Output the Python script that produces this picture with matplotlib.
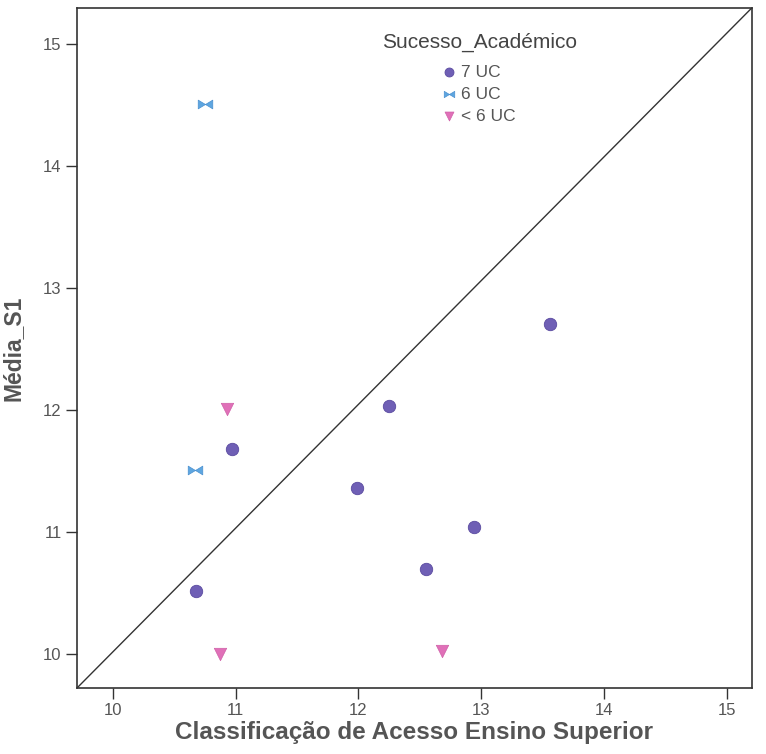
import matplotlib
matplotlib.use("Agg")
import matplotlib.pyplot as plt
from matplotlib.path import Path

plt.rcParams['font.family'] = ['Liberation Sans', 'DejaVu Sans']

# Classificação de acesso (x) vs média do 1º semestre (y), por grupo de sucesso
x_7uc = [13.56, 12.25, 10.97, 11.99, 12.94, 12.55, 10.68]
y_7uc = [12.71, 12.03, 11.68, 11.36, 11.04, 10.70, 10.52]

x_6uc = [10.75, 10.67]
y_6uc = [14.51, 11.51]

x_m6uc = [10.93, 10.87, 12.68]
y_m6uc = [12.01, 10.00, 10.02]

ticks = [10, 11, 12, 13, 14, 15]

# marcador "laço" (dois triângulos unidos pelo vértice)
bowtie = Path([(-1, -0.6), (-1, 0.6), (0, 0), (1, 0.6), (1, -0.6), (0, 0), (-1, -0.6)],
              [Path.MOVETO, Path.LINETO, Path.LINETO, Path.LINETO, Path.LINETO,
               Path.LINETO, Path.CLOSEPOLY])

grey = '#555555'

fig = plt.figure(figsize=(7.66, 7.54), dpi=100)
ax = fig.add_axes([0.1005, 0.0875, 0.881, 0.902])

# linha de referência de canto a canto
ax.plot([0, 1], [0, 1], transform=ax.transAxes, color='#333333', lw=1.0, zorder=1)

ax.scatter(x_7uc, y_7uc, s=80, marker='o', color='#6f5fb5', edgecolors='#5a4aa0',
           linewidths=0.6, label='7 UC', zorder=3)
ax.scatter(x_6uc, y_6uc, s=110, marker=bowtie, color='#5ea6e0', edgecolors='#4a90d0',
           linewidths=0.5, label='6 UC', zorder=3)
ax.scatter(x_m6uc, y_m6uc, s=80, marker='v', color='#e070b8', edgecolors='#d060a8',
           linewidths=0.5, label='< 6 UC', zorder=3)

ax.set_xlim(9.71, 15.2)
ax.set_ylim(9.72, 15.3)
ax.set_xticks(ticks)
ax.set_yticks(ticks)
ax.tick_params(direction='out', length=8, width=1, colors='#333333',
               labelcolor=grey, labelsize=12, pad=3)
for sp in ax.spines.values():
    sp.set_color('#333333')
    sp.set_linewidth(1.2)

ax.set_xlabel('Classificação de Acesso Ensino Superior', fontsize=17.5,
              fontweight='bold', color=grey, labelpad=2)
ax.set_ylabel('Média_S1', fontsize=16.5, fontweight='bold', color=grey, labelpad=13)

# título da legenda à parte, entradas logo abaixo
ax.text(0.597, 0.950, 'Sucesso_Académico', transform=ax.transAxes, ha='center',
        va='center', fontsize=15, color='#444444')
leg = ax.legend(loc='upper left', bbox_to_anchor=(0.541, 0.917), frameon=False,
                fontsize=12.5, markerscale=0.72, handlelength=0.85,
                handletextpad=0.25, labelspacing=0.4, borderpad=0,
                borderaxespad=0)
for t in leg.get_texts():
    t.set_color(grey)

fig.savefig('out.png', dpi=100)
